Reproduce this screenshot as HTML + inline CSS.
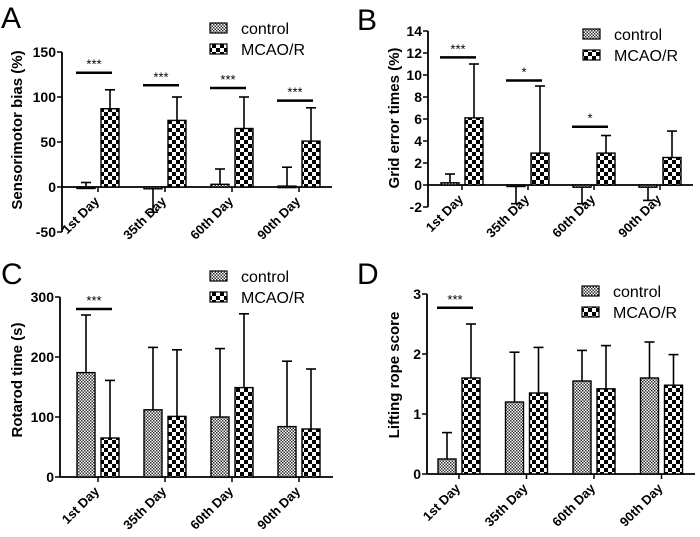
<!DOCTYPE html>
<html><head><meta charset="utf-8"><style>
body{margin:0;background:#fff;}
svg{display:block;font-family:"Liberation Sans",Arial,sans-serif;}
</style></head><body>
<svg id="chart" width="700" height="537" viewBox="0 0 700 537">
<defs>
<pattern id="pc" width="3" height="3" patternUnits="userSpaceOnUse"><rect width="3" height="3" fill="#fff"/><rect width="1.5" height="1.5" fill="#333"/><rect x="1.5" y="1.5" width="1.5" height="1.5" fill="#333"/></pattern>
<pattern id="pm" width="8" height="8" patternUnits="userSpaceOnUse"><rect width="8" height="8" fill="#fff"/><rect width="4" height="4" fill="#000"/><rect x="4" y="4" width="4" height="4" fill="#000"/></pattern>
</defs>
</svg>
<script>
const categories=["1st Day","35th Day","60th Day","90th Day"];
const aControl=[0,-2,3,1], aControlErr=[5,-28,20,22];
const aMcao=[87,74,65,51], aMcaoErr=[108,100,100,88];
const aTicks=[-50,0,50,100,150];
const aSig=[[0,127,"***"],[1,113,"***"],[2,110,"***"],[3,96,"***"]];
const bControl=[0.2,-0.1,-0.2,-0.2], bControlErr=[1,-1.7,-1.7,-1.4];
const bMcao=[6.1,2.9,2.9,2.5], bMcaoErr=[11,9,4.5,4.9];
const bTicks=[-2,0,2,4,6,8,10,12,14];
const bSig=[[0,11.6,"***"],[1,9.5,"*"],[2,5.3,"*"]];
const cControl=[174,112,100,84], cControlErr=[270,216,214,193];
const cMcao=[65,101,149,80], cMcaoErr=[161,212,272,180];
const cTicks=[0,100,200,300];
const cSig=[[0,280,"***"]];
const dControl=[0.25,1.2,1.55,1.6], dControlErr=[0.69,2.03,2.06,2.2];
const dMcao=[1.6,1.35,1.42,1.48], dMcaoErr=[2.5,2.11,2.14,1.99];
const dTicks=[0,1,2,3];
const dSig=[[0,2.77,"***"]];

const svg=document.getElementById('chart');
const NS="http://www.w3.org/2000/svg";
function mk(tag,attrs,parent,text){const e=document.createElementNS(NS,tag);for(const k in attrs)e.setAttribute(k,attrs[k]);if(text!==undefined)e.textContent=text;(parent||svg).appendChild(e);return e;}

function panel(p){
  const g=mk('g',{});
  
  
  const y=v=>p.y0-(v-p.vmin)*p.scale;
  const zeroY=y(0);
  const lab=mk('text',{x:p.lx,y:p.ly,'font-size':30},g,p.id.toUpperCase());
  
  
  const ya=mk('line',{x1:p.ax,x2:p.ax,y1:y(p.ticks[0]),y2:y(p.ticks[p.ticks.length-1]),stroke:'#000','stroke-width':1.8},g);
  
  
  p.ticks.forEach(t=>{
    mk('line',{x1:p.ax-5,x2:p.ax,y1:y(t),y2:y(t),stroke:'#000','stroke-width':1.5},g);
    const tl=mk('text',{x:p.ax-6,y:y(t)+5,'font-size':p.tfs||14,'font-weight':'bold','text-anchor':'end'},g,String(t));
    
    
  });
  const yt=mk('text',{x:0,y:0,'font-size':15,'font-weight':'bold','text-anchor':'middle',transform:`translate(${p.tx},${p.ty}) rotate(-90)`},g,p.title);
  
  
  const xa=mk('line',{x1:p.ax,x2:p.axEnd,y1:zeroY,y2:zeroY,stroke:'#000','stroke-width':1.8},g);
  
  
  const labY=p.vmin<0?zeroY:y(p.ticks[0]);
  categories.forEach((c,i)=>{
    const cx=p.x0+i*p.step;
    [[p.ctrl,p.ctrlErr,cx-21,'url(#pc)','control'],[p.mc,p.mcErr,cx+3,'url(#pm)','mcao']].forEach(([vals,errs,bx,fill,nm])=>{
      const v=vals[i],e=errs[i];
      const bx2=bx+9;
      mk('line',{x1:bx2,x2:bx2,y1:y(v),y2:y(e),stroke:'#000','stroke-width':1.6},g);
      mk('line',{x1:bx2-5,x2:bx2+5,y1:y(e),y2:y(e),stroke:'#000','stroke-width':1.6},g);
      const top=Math.min(y(v),zeroY),h=Math.max(Math.abs(y(v)-zeroY),1.5);
      const r=mk('rect',{x:bx,y:top,width:18,height:h,fill:fill,stroke:'#000','stroke-width':1.4},g);
      
      
    });
    mk('line',{x1:cx,x2:cx,y1:zeroY,y2:zeroY+5,stroke:'#000','stroke-width':1.5},g);
    const xl=mk('text',{x:0,y:0,'font-size':13,'font-weight':'bold','text-anchor':'end',transform:`translate(${cx+2},${labY+15}) rotate(-45)`},g,c);
    
    
  });
  p.sig.forEach(([i,v,s])=>{
    const cx=p.x0+i*p.step;
    const sl=mk('line',{x1:cx-22,x2:cx+14,y1:y(v),y2:y(v),stroke:'#000','stroke-width':2.5},g);
    
    
    const st=mk('text',{x:cx-4,y:y(v)-4,'font-size':13,'text-anchor':'middle'},g,s);
    
    
  });
  [['control','url(#pc)'],['MCAO/R','url(#pm)']].forEach(([n,f],k)=>{
    const ly=p.legY+k*21;
    const sw=mk('rect',{x:p.legX,y:ly-5,width:17,height:10,fill:f,stroke:'#000','stroke-width':1.2},g);
    
    
    const lt=mk('text',{x:p.legX+31,y:ly+6,'font-size':16},g,n);
    
    
  });
}
panel({id:'a',lx:1,ly:28,ax:62,axEnd:332,vmin:-50,y0:232,scale:0.9,ticks:aTicks,title:'Sensorimotor bias (%)',tx:22,ty:130,x0:98,step:67,ctrl:aControl,ctrlErr:aControlErr,mc:aMcao,mcErr:aMcaoErr,sig:aSig,legX:210,legY:28});
panel({id:'b',lx:357,ly:30,ax:428,axEnd:693,vmin:-2,y0:207,scale:11,ticks:bTicks,title:'Grid error times (%)',tx:399,ty:118,x0:462,step:66,ctrl:bControl,ctrlErr:bControlErr,mc:bMcao,mcErr:bMcaoErr,sig:bSig,legX:583,legY:34});
panel({id:'c',lx:1,ly:284,ax:60,axEnd:333,vmin:0,y0:477,scale:0.6,ticks:cTicks,title:'Rotarod time (s)',tx:22,ty:380,x0:98,step:67,ctrl:cControl,ctrlErr:cControlErr,mc:cMcao,mcErr:cMcaoErr,sig:cSig,legX:210,legY:276});
panel({id:'d',lx:357,ly:284,ax:427,axEnd:695,vmin:0,y0:474,scale:60,ticks:dTicks,title:'Lifting rope score',tx:399,ty:375,x0:459,step:67.5,ctrl:dControl,ctrlErr:dControlErr,mc:dMcao,mcErr:dMcaoErr,sig:dSig,legX:582,legY:291});
</script>
</body></html>
